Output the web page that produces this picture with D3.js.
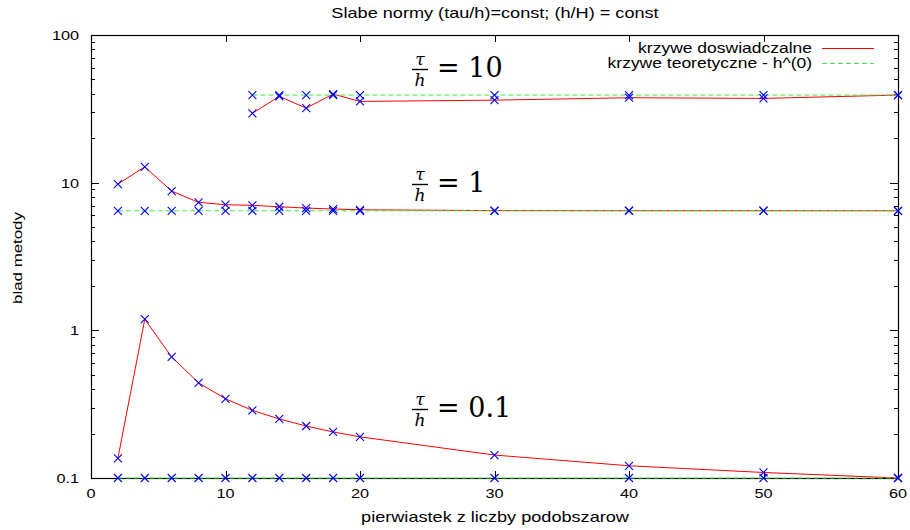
<!DOCTYPE html>
<html>
<head>
<meta charset="utf-8">
<script src="https://cdn.jsdelivr.net/npm/d3@7"></script>
<style>
  html, body { margin: 0; padding: 0; background: #fff; }
  svg { display: block; }
</style>
</head>
<body>
<svg id="chart" width="910" height="530"></svg>
<script>
// x positions (square root of the number of subdomains)
const xAll = [2, 4, 6, 8, 10, 12, 14, 16, 18, 20, 30, 40, 50, 60];
const x10 = [12, 14, 16, 18, 20, 30, 40, 50, 60];

// tau/h = 0.1
const exp01 = [0.136, 1.19, 0.66, 0.441, 0.344, 0.287, 0.251, 0.225, 0.205, 0.19, 0.143, 0.121, 0.109, 0.1];
const theo01 = [0.1, 0.1, 0.1, 0.1, 0.1, 0.1, 0.1, 0.1, 0.1, 0.1, 0.1, 0.1, 0.1, 0.1];

// tau/h = 1
const exp1 = [9.78, 12.8, 8.77, 7.36, 7.09, 7.02, 6.87, 6.73, 6.63, 6.55, 6.47, 6.46, 6.46, 6.45];
const theo1 = [6.45, 6.45, 6.45, 6.45, 6.45, 6.45, 6.45, 6.45, 6.45, 6.45, 6.45, 6.45, 6.45, 6.45];

// tau/h = 10
const exp10 = [29.5, 38.4, 32.0, 39.8, 35.5, 36.2, 37.6, 37.2, 39.2];
const theo10 = [39.2, 39.2, 39.2, 39.2, 39.2, 39.2, 39.2, 39.2, 39.2];

const xTicks = [0, 10, 20, 30, 40, 50, 60];
const yTicks = [0.1, 1, 10, 100];
const yTickLabels = ["0.1", "1", "10", "100"];

const ratioLabels = ["10", "1", "0.1"];

const titleText = "Slabe normy (tau/h)=const; (h/H) = const";
const xLabel = "pierwiastek z liczby podobszarow";
const yLabel = "blad metody";
const legendLabels = ["krzywe doswiadczalne", "krzywe teoretyczne - h^(0)"];

const svg = d3.select("#chart");
const plot = { left: 91, right: 898, top: 35, bottom: 478 };
const SX = 1.25; // horizontal stretch of the lettering
const SANS = "Liberation Sans, Arial, Helvetica, sans-serif";
const SERIF = "DejaVu Serif, serif";
const GREEN = "#3fe83f";

const x = d3.scaleLinear().domain([0, 60]).range([plot.left, plot.right]);
const y = d3.scaleLog().domain([0.1, 100]).range([plot.bottom, plot.top]);

function stretchedText(parent, px, py, str, opts) {
  const g = parent.append("g").attr("transform", `translate(${px},${py}) scale(${opts.sx || SX},1)`);
  g.append("text")
    .attr("font-family", opts.family || SANS)
    .attr("font-size", opts.size || 13)
    .attr("text-anchor", opts.anchor || "start")
    .attr("fill", "#000")
    .text(str);
  return g;
}

// minor log ticks
const minor = [];
[0.1, 1, 10].forEach(d => { for (let k = 2; k <= 9; k++) minor.push(d * k); });

const ticks = svg.append("g").attr("stroke", "#000").attr("stroke-width", 1);
minor.forEach(v => {
  const yy = Math.round(y(v)) + 0.5;
  ticks.append("line").attr("x1", plot.left).attr("x2", plot.left + 4).attr("y1", yy).attr("y2", yy);
  ticks.append("line").attr("x1", plot.right).attr("x2", plot.right - 4).attr("y1", yy).attr("y2", yy);
});
yTicks.forEach(v => {
  const yy = Math.round(y(v)) + 0.5;
  ticks.append("line").attr("x1", plot.left).attr("x2", plot.left + 8).attr("y1", yy).attr("y2", yy);
  ticks.append("line").attr("x1", plot.right).attr("x2", plot.right - 8).attr("y1", yy).attr("y2", yy);
});
xTicks.forEach(v => {
  const xx = Math.round(x(v)) + 0.5;
  ticks.append("line").attr("x1", xx).attr("x2", xx).attr("y1", plot.bottom).attr("y2", plot.bottom - 7);
  ticks.append("line").attr("x1", xx).attr("x2", xx).attr("y1", plot.top).attr("y2", plot.top + 7);
});

// tick labels
yTicks.forEach((v, i) => {
  stretchedText(svg, 79, y(v) + 5, yTickLabels[i], { size: 13, anchor: "end" });
});
xTicks.forEach(v => {
  stretchedText(svg, x(v), 498, String(v), { size: 13, anchor: "middle" });
});

// axis titles and chart title
stretchedText(svg, 495, 18, titleText, { size: 14.5, anchor: "middle" });
stretchedText(svg, 495, 522, xLabel, { size: 14.5, anchor: "middle" });
svg.append("g")
  .attr("transform", `translate(22,258) rotate(-90) scale(${SX},1)`)
  .append("text")
  .attr("font-family", SANS).attr("font-size", 13.5).attr("text-anchor", "middle")
  .text(yLabel);

// frame
svg.append("rect")
  .attr("x", plot.left + 0.5).attr("y", plot.top + 0.5)
  .attr("width", plot.right - plot.left).attr("height", plot.bottom - plot.top)
  .attr("fill", "none").attr("stroke", "#000").attr("stroke-width", 1.2);

// series
const line = d3.line().x(d => x(d[0])).y(d => y(d[1]));
const zip = (xs, ys) => xs.map((v, i) => [v, ys[i]]);

const series = [
  { pts: zip(xAll, exp01), kind: "exp" },
  { pts: zip(xAll, theo01), kind: "theo" },
  { pts: zip(xAll, exp1), kind: "exp" },
  { pts: zip(xAll, theo1), kind: "theo" },
  { pts: zip(x10, exp10), kind: "exp" },
  { pts: zip(x10, theo10), kind: "theo" }
];

const lines = svg.append("g").attr("fill", "none");
series.forEach(s => {
  const p = lines.append("path").attr("d", line(s.pts)).attr("stroke-width", 1);
  if (s.kind === "exp") p.attr("stroke", "#ff0000");
  else p.attr("stroke", GREEN).attr("stroke-dasharray", "5,3");
});

// point markers
const marks = svg.append("g").attr("stroke", "#0000ff").attr("stroke-width", 1.1);
series.forEach(s => {
  s.pts.forEach(d => {
    const cx = x(d[0]), cy = y(d[1]), r = 4;
    marks.append("path").attr("d", `M${cx - r},${cy - r}L${cx + r},${cy + r}M${cx - r},${cy + r}L${cx + r},${cy - r}`);
  });
});

// legend
const legRows = [48, 63];
legendLabels.forEach((lab, i) => {
  stretchedText(svg, 812, legRows[i] + 5, lab, { size: 14, anchor: "end" });
  const l = svg.append("line")
    .attr("x1", 822).attr("x2", 874)
    .attr("y1", legRows[i] + 0.5).attr("y2", legRows[i] + 0.5)
    .attr("stroke-width", 1.2);
  if (i === 0) l.attr("stroke", "#ff0000");
  else l.attr("stroke", GREEN).attr("stroke-dasharray", "5,3");
});

// tau/h labels
const labelBaselines = [77, 192, 417];
ratioLabels.forEach((val, i) => {
  const base = labelBaselines[i];
  const g = svg.append("g").attr("transform", `translate(420,${base - 8})`);
  g.append("text").attr("font-family", SERIF).attr("font-style", "italic").attr("font-size", 17)
    .attr("text-anchor", "middle").attr("y", -4).text("τ");
  g.append("line").attr("x1", -8).attr("x2", 8).attr("y1", 0.5).attr("y2", 0.5)
    .attr("stroke", "#000").attr("stroke-width", 1.4);
  g.append("text").attr("font-family", SERIF).attr("font-style", "italic").attr("font-size", 17)
    .attr("text-anchor", "middle").attr("y", 17).text("h");
  g.append("text").attr("font-family", SERIF).attr("font-size", 27)
    .attr("x", 17).attr("y", 8).text("= " + val);
});
</script>
</body>
</html>
